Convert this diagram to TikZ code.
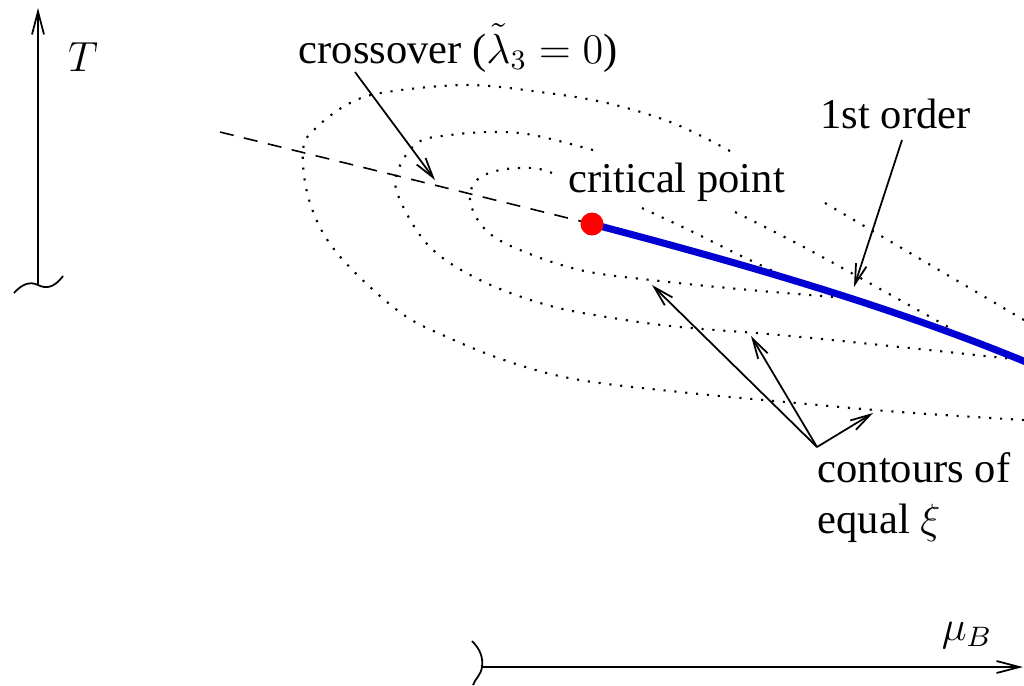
\documentclass[tikz,border=0pt]{standalone}
\usepackage{fontspec}
\setmainfont{Liberation Serif}
\newfontfamily\lserif{Liberation Serif}
\usetikzlibrary{arrows.meta}
\definecolor{foblue}{RGB}{0,0,210}

\begin{document}
\begin{tikzpicture}[
  x=0.1mm, y=-0.1mm,
  lab/.style={inner sep=0pt, font=\lserif\fontsize{12.1}{14.5}\selectfont},
  axis/.style={line width=0.5pt, -{Straight Barb[length=2.3mm,width=1.2mm]}},
  brk/.style={line width=0.5pt},
  ptr/.style={line width=0.5pt, -{Straight Barb[length=2mm,width=1.1mm]}},
  contour/.style={line width=0.6pt, dash pattern=on 0.6pt off 2.5pt},
  crossline/.style={line width=0.45pt, dash pattern=on 4pt off 3pt},
  firstorder/.style={line width=2pt, draw=foblue},
  cpdot/.style={circle, fill=red, inner sep=0pt, minimum size=2.3mm}
]
\useasboundingbox (0,0) rectangle (1024,685);

% axes with breaks
\coordinate (tlow) at (38,285);
\coordinate (ttop) at (38,8);
\coordinate (mulow) at (482,667);
\coordinate (muend) at (1023,667);
\draw[axis] (tlow) -- (ttop);
\draw[brk] (14,293) .. controls (22,284) and (30,281) .. (tlow)
  .. controls (46,289) and (54,288) .. (63,276);
\draw[axis] (mulow) -- (muend);
\draw[brk] (472,641) .. controls (481,650) and (483,658) .. (mulow)
  .. controls (481,675) and (475,679) .. (473,685);
\node[lab] (tlab) at (83,57) {$T$};
\node[lab] (mulab) at (967,635) {$\mu_B$};

% contours of equal xi
\draw[contour] plot[smooth, tension=0.6] coordinates {(730,151) (673,123) (607,103)
  (540,92) (467,85) (387,92) (350,103) (317,127) (303,150) (310,203) (337,253)
  (397,310) (447,337) (513,363) (580,380) (680,392) (797,403) (900,412) (1024,420)};
\draw[contour] (825,203) -- (1024,320);
\draw[contour] plot[smooth, tension=0.6] coordinates {(593,150) (533,135) (493,132)
  (450,135) (417,143) (397,173) (400,200) (430,247) (480,280) (547,305) (613,318)
  (680,327) (780,335) (900,347) (1023,360)};
\draw[contour] plot[smooth, tension=0.6] coordinates {(735,212) (815,253) (950,328)};
\draw[contour] plot[smooth, tension=0.6] coordinates {(552,173) (533,168) (500,170)
  (477,180) (470,200) (483,227) (513,247) (580,270) (660,281) (750,290) (847,298)};
\draw[contour] plot[smooth, tension=0.6] coordinates {(642,208) (693,232) (733,252) (775,272)};

% crossover line, first order line, critical point
\coordinate (xostart) at (220,132);
\coordinate (cpt) at (592,224);
\coordinate (foend) at (1026,362);
\draw[crossline] (xostart) -- (cpt);
\draw[firstorder] (cpt) .. controls (760,268) and (900,310) .. (foend);
\node[cpdot] (cp) at (cpt) {};

% labels and pointers
\node[lab, anchor=base west] (xolab) at (298,63) {crossover ($\tilde\lambda_3=0$)};
\node[lab, anchor=base west] (cplab) at (568,192) {critical point};
\node[lab, anchor=base west] (folab) at (820,128) {1st order};
\node[lab, anchor=north west, align=left] (ctlab) at (817,452) {contours of\\equal $\xi$};

\coordinate (xotail) at (355,72);
\coordinate (xotip) at (435,180);
\coordinate (fotail) at (902,140);
\coordinate (fotip) at (854,287);
\coordinate (cttail) at (817,447);
\coordinate (cttipa) at (652,285);
\coordinate (cttipb) at (751,336);
\coordinate (cttipc) at (873,413);
\draw[ptr] (xotail) -- (xotip);
\draw[ptr] (fotail) -- (fotip);
\draw[ptr] (cttail) -- (cttipa);
\draw[ptr] (cttail) -- (cttipb);
\draw[ptr] (cttail) -- (cttipc);
\end{tikzpicture}
\end{document}
